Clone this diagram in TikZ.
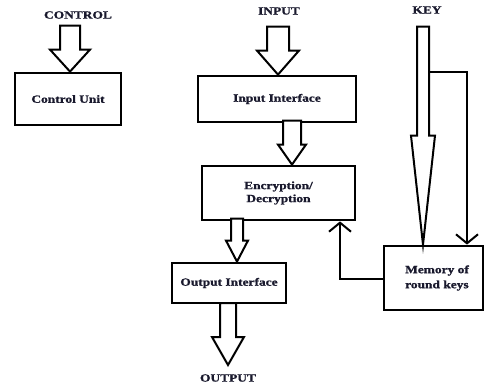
\documentclass[tikz,border=0pt]{standalone}
\usepackage{fontspec}
\setmainfont{Liberation Serif}
\newfontfamily\lbfont[FakeStretch=1.22, BoldFeatures={FakeBold=1.2}]{Liberation Serif}
\usetikzlibrary{arrows.meta}
\definecolor{txt}{RGB}{25,25,45}
\tikzset{
  box/.style={draw, line width=2.8pt, rectangle, inner sep=0pt, align=center, text=txt, font=\lbfont\bfseries\fontsize{11}{13}\selectfont},
  lbl/.style={font=\lbfont\bfseries\fontsize{11}{13}\selectfont, text=txt, inner sep=0pt},
  blk/.style={draw, line width=2pt, line join=miter, fill=white},
  conn/.style={draw, line width=2pt, -{Straight Barb[length=9pt,width=22pt,line width=2pt]}}
}
% #1 tip (node anchor), #2 total length, #3 head length, #4 shaft half width, #5 head half width
\newcommand\blockarr[5]{%
  \begin{scope}[shift={(#1)}]
    \path[blk] (0,0) -- (-#5,-#3) -- (-#4,-#3) -- (-#4,-#2) -- (#4,-#2) -- (#4,-#3) -- (#5,-#3) -- cycle;
  \end{scope}}
\begin{document}
\begin{tikzpicture}[x=1pt,y=-1pt]
\useasboundingbox (0,0) rectangle (487,385);
% boxes
\node[box, minimum width=106pt, minimum height=52pt] (ctrl) at (68,99) {Control Unit};
\node[box, minimum width=158pt, minimum height=46pt] (inp) at (277,99) {Input Interface};
\node[box, minimum width=153pt, minimum height=54pt] (enc) at (278.5,193) {Encryption/\\Decryption};
\node[box, minimum width=114pt, minimum height=40pt] (out) at (229,283) {Output Interface};
\node[box, minimum width=99pt, minimum height=64pt] (mem) at (433.5,278) {};
\node[lbl, align=left, font=\lbfont\bfseries\fontsize{11}{15}\selectfont] (memt) at (437,278) {Memory of\\round keys};
% labels
\node[lbl] (lctrl) at (78,15) {CONTROL};
\node[lbl] (linp) at (279,11) {INPUT};
\node[lbl] (lkey) at (427,10) {KEY};
\node[lbl] (lout) at (228,378) {OUTPUT};
% tips
\coordinate (tctrl) at (ctrl.north -| 70,0);
\coordinate (tinp) at (inp.north -| 278,0);
\coordinate (tenc) at (enc.north -| 292,0);
\coordinate (tout) at (out.north -| 237,0);
\coordinate (toutput) at (228,365);
\coordinate (tkey) at (mem.north -| 423,0);
% block arrows
\blockarr{tctrl}{46}{22}{10}{20}
\blockarr{tinp}{48}{24}{11}{21}
\blockarr{tenc}{44}{20}{9}{14}
\blockarr{tout}{43}{21}{6}{11}
\blockarr{toutput}{62}{28}{8}{16}
\blockarr{tkey}{218}{109}{6}{12}
% line connectors
\coordinate (ks) at (429,72);
\coordinate (kc) at (467,72);
\draw[conn] (ks) -- (kc) -- (kc |- mem.north);
\coordinate (rc) at (340,279);
\draw[conn] (mem.west |- rc) -- (rc) -- (rc |- enc.south);
\end{tikzpicture}
\end{document}
